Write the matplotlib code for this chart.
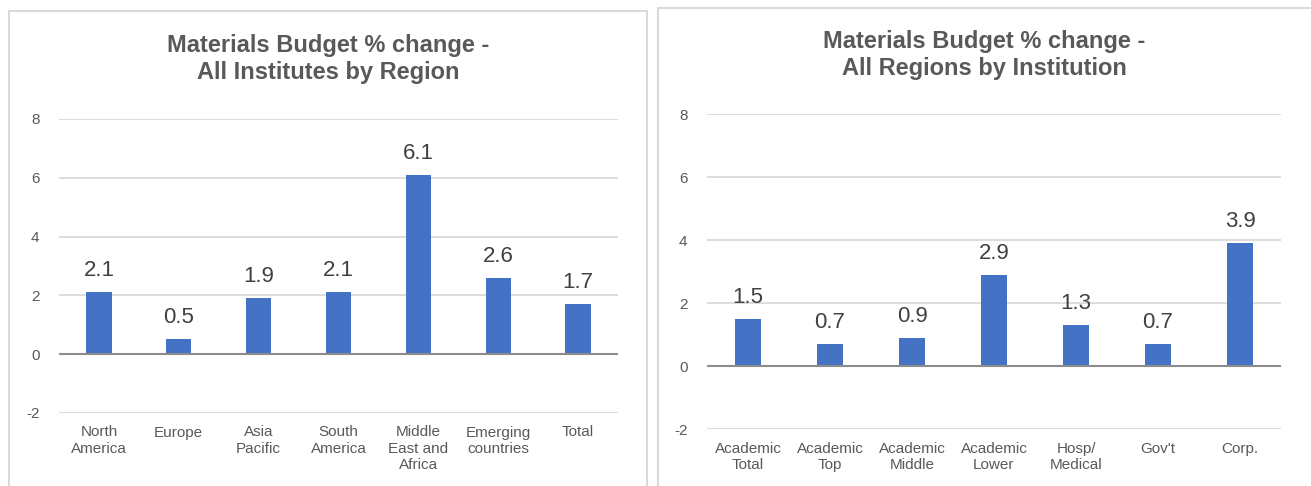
import matplotlib
matplotlib.use('Agg')
import matplotlib.pyplot as plt
from matplotlib.patches import Rectangle

plt.rcParams['font.family'] = ['Liberation Sans', 'DejaVu Sans']

# Left chart: all institutes by region
region_labels = ['North\nAmerica', 'Europe', 'Asia\nPacific', 'South\nAmerica',
                 'Middle\nEast and\nAfrica', 'Emerging\ncountries', 'Total']
region_values = [2.1, 0.5, 1.9, 2.1, 6.1, 2.6, 1.7]

# Right chart: all regions by institution
inst_labels = ['Academic\nTotal', 'Academic\nTop', 'Academic\nMiddle', 'Academic\nLower',
               'Hosp/\nMedical', "Gov't", 'Corp.']
inst_values = [1.5, 0.7, 0.9, 2.9, 1.3, 0.7, 3.9]

yticks = [-2, 0, 2, 4, 6, 8]

BAR = '#4472C4'
GRID = '#D9D9D9'
TEXT = '#595959'

W, H = 1311, 486
fig = plt.figure(figsize=(W / 100, H / 100), dpi=100)


def px_box(x0, y0, x1, y1):
    # pixel box (top-left origin) -> figure fraction [left, bottom, width, height]
    return [x0 / W, 1 - y1 / H, (x1 - x0) / W, (y1 - y0) / H]


# chart frames
for x0, y0, x1, y1 in [(9, 11, 647, 500), (658, 8, 1320, 500)]:
    fig.patches.append(Rectangle((x0 / W, 1 - y1 / H), (x1 - x0) / W, (y1 - y0) / H,
                                 transform=fig.transFigure, fill=False,
                                 edgecolor=GRID, linewidth=1.5))


def draw(box, labels, values, title, title_x, title_y):
    ax = fig.add_axes(px_box(*box))
    xs = range(len(values))
    ax.bar(xs, values, width=0.315, color=BAR, zorder=3)
    ax.set_xlim(-0.5, len(values) - 0.5)
    ax.set_ylim(-2, 8)
    ax.set_yticks(yticks)
    ax.set_yticklabels([str(t) for t in yticks])
    ax.grid(axis='y', color=GRID, linewidth=1.3, zorder=0)
    ax.axhline(0, color='#8C8C8C', linewidth=1.5, zorder=4)
    for s in ax.spines.values():
        s.set_visible(False)
    ax.tick_params(axis='both', length=0, labelsize=11, colors=TEXT, pad=14)
    ax.tick_params(axis='x', pad=9)
    ax.set_xticks(list(xs))
    ax.set_xticklabels(labels, fontsize=11, color=TEXT, linespacing=1.2)
    for x, v in zip(xs, values):
        ax.annotate(f'{v:.1f}', (x, v), xytext=(0, 8), textcoords='offset points',
                    ha='center', va='bottom', fontsize=16, color='#404040', zorder=5)
    fig.text(title_x / W, 1 - title_y / H, title, ha='center', va='center',
             fontsize=17, fontweight='bold', color=TEXT, linespacing=1.2)
    return ax


draw((59, 119, 618, 413), region_labels, region_values,
     'Materials Budget % change -\nAll Institutes by Region', 328, 59)
draw((707, 114, 1281, 429), inst_labels, inst_values,
     'Materials Budget % change -\nAll Regions by Institution', 984, 55)

fig.savefig('out.png', dpi=100, facecolor='white')
